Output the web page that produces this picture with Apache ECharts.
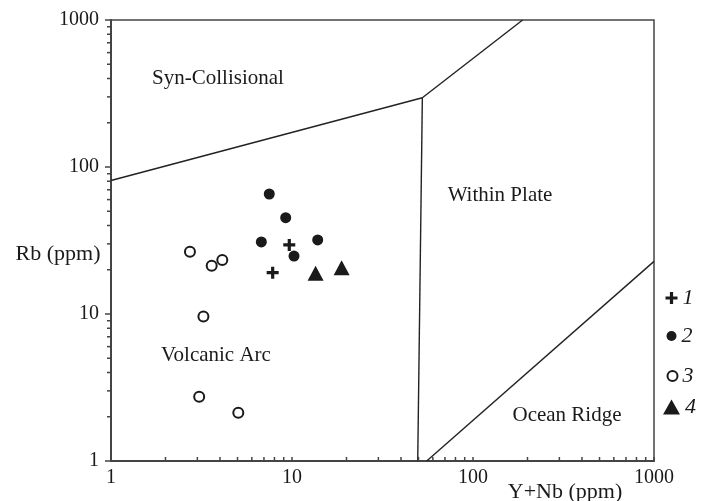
<!DOCTYPE html>
<html><head><meta charset="utf-8">
<script src="https://cdn.jsdelivr.net/npm/echarts@6/dist/echarts.min.js"></script>
<style>html,body{margin:0;padding:0;background:#fff}#c{width:709px;height:501px}</style>
</head><body><div id="c"></div>
<script>
// ---- data ----
const seriesNames = ['1', '2', '3', '4'];
const group1 = [[9.66, 29.5], [7.82, 19.1]];
const group2 = [[7.49, 65.5], [9.23, 45.2], [6.77, 30.9], [10.26, 24.8], [13.87, 31.9]];
const group3 = [[2.73, 26.5], [3.60, 21.3], [4.12, 23.3], [3.24, 9.6], [3.07, 2.74], [5.05, 2.13]];
const group4 = [[13.5, 18.9], [18.8, 20.6]];
const boundarySynVag = [[1, 81], [52.5, 296]];
const boundarySynWpg = [[52.5, 296], [188, 1000]];
const boundaryVagWpg = [[52.5, 296], [49.5, 1]];
const boundaryOrg = [[55.5, 1], [1000, 22.8]];
const minorTickValues = [2,3,4,5,6,7,8,9,20,30,40,50,60,70,80,90,200,300,400,500,600,700,800,900];
const axisTickLabels = ['1', '10', '100', '1000'];
const regionNames = ['Syn-Collisional', 'Within Plate', 'Volcanic Arc', 'Ocean Ridge'];
const xAxisTitle = 'Y+Nb (ppm)';
const yAxisTitle = 'Rb (ppm)';

// ---- chart ----
const FONT = '"Liberation Serif", "Times New Roman", serif';
const INK = '#1a1a1a';
const AXIS = '#444';
const chart = echarts.init(document.getElementById('c'), null, {renderer: 'canvas'});

function tickLabel(v) {
  const i = Math.round(Math.log10(v));
  return axisTickLabels[i] !== undefined ? axisTickLabels[i] : '';
}
function boundary(data) {
  return {type: 'line', data: data, symbol: 'none', silent: true, z: 2,
    lineStyle: {color: '#222', width: 1.4}, animation: false};
}
const plusPath = 'path://M4.4,0H7.6V4.4H12V7.6H7.6V12H4.4V7.6H0V4.4H4.4Z';

function legendAt(name, top, w, h) {
  return {data: [name], left: 671.5 - w / 2, top: top, itemWidth: w, itemHeight: h,
    selectedMode: false, padding: 0,
    textStyle: {fontFamily: FONT, fontStyle: 'italic', fontSize: 22, color: INK}};
}

const option = {
  animation: false,
  backgroundColor: '#fff',
  grid: {left: 111, right: 55, top: 20, bottom: 40, show: true, borderColor: AXIS, borderWidth: 1.5},
  xAxis: {type: 'log', logBase: 10, min: 1, max: 1000,
    axisLine: {lineStyle: {color: AXIS, width: 2}},
    axisTick: {inside: true, length: 4, lineStyle: {color: AXIS, width: 1.5}},
    axisLabel: {margin: 7, fontFamily: FONT, fontSize: 20, color: INK, formatter: tickLabel},
    splitLine: {show: false}},
  yAxis: {type: 'log', logBase: 10, min: 1, max: 1000,
    axisLine: {lineStyle: {color: AXIS, width: 2}},
    axisTick: {inside: false, length: 6, lineStyle: {color: AXIS, width: 1.5}},
    axisLabel: {margin: 12, fontFamily: FONT, fontSize: 20, color: INK, formatter: tickLabel},
    splitLine: {show: false}},
  legend: [
    legendAt(seriesNames[0], 287, 12, 12),
    legendAt(seriesNames[1], 325, 10, 10),
    legendAt(seriesNames[2], 365, 10, 10),
    legendAt(seriesNames[3], 396, 17, 15)
  ],
  graphic: [
    {type: 'text', x: 218, y: 78, style: {text: regionNames[0], fontFamily: FONT, fontSize: 21, fill: INK, align: 'center', verticalAlign: 'middle'}},
    {type: 'text', x: 500, y: 195, style: {text: regionNames[1], fontFamily: FONT, fontSize: 21, fill: INK, align: 'center', verticalAlign: 'middle'}},
    {type: 'text', x: 216, y: 355, style: {text: regionNames[2], fontFamily: FONT, fontSize: 21, fill: INK, align: 'center', verticalAlign: 'middle'}},
    {type: 'text', x: 567, y: 415, style: {text: regionNames[3], fontFamily: FONT, fontSize: 21, fill: INK, align: 'center', verticalAlign: 'middle'}},
    {type: 'text', x: 565, y: 492, style: {text: xAxisTitle, fontFamily: FONT, fontSize: 22, fill: INK, align: 'center', verticalAlign: 'middle'}},
    {type: 'text', x: 58, y: 254, style: {text: yAxisTitle, fontFamily: FONT, fontSize: 22, fill: INK, align: 'center', verticalAlign: 'middle'}}
  ],
  series: [
    boundary(boundarySynVag),
    boundary(boundarySynWpg),
    boundary(boundaryVagWpg),
    boundary(boundaryOrg),
    {type: 'custom', silent: true, clip: false, z: 3,
      data: minorTickValues.map(v => [v, 1]),
      renderItem: function (params, api) {
        const p = api.coord([api.value(0), api.value(1)]);
        return {type: 'line', shape: {x1: p[0], y1: p[1], x2: p[0], y2: p[1] - 4},
          style: {stroke: AXIS, lineWidth: 1.5}};
      }},
    {type: 'custom', silent: true, clip: false, z: 3,
      data: minorTickValues.map(v => [1, v]),
      renderItem: function (params, api) {
        const p = api.coord([api.value(0), api.value(1)]);
        return {type: 'line', shape: {x1: p[0] - 4, y1: p[1], x2: p[0], y2: p[1]},
          style: {stroke: AXIS, lineWidth: 1.5}};
      }},
    {name: seriesNames[0], type: 'scatter', data: group1, symbol: plusPath, symbolSize: 12, z: 5,
      itemStyle: {color: INK, opacity: 1}},
    {name: seriesNames[1], type: 'scatter', data: group2, symbol: 'circle', symbolSize: 11, z: 5,
      itemStyle: {color: INK, opacity: 1}},
    {name: seriesNames[2], type: 'scatter', data: group3, symbol: 'circle', symbolSize: 10, z: 5,
      itemStyle: {color: '#fff', borderColor: INK, borderWidth: 2, opacity: 1}},
    {name: seriesNames[3], type: 'scatter', data: group4, symbol: 'triangle', symbolSize: [16, 15], z: 5,
      itemStyle: {color: INK, opacity: 1}}
  ]
};
chart.setOption(option);
</script>
</body></html>
